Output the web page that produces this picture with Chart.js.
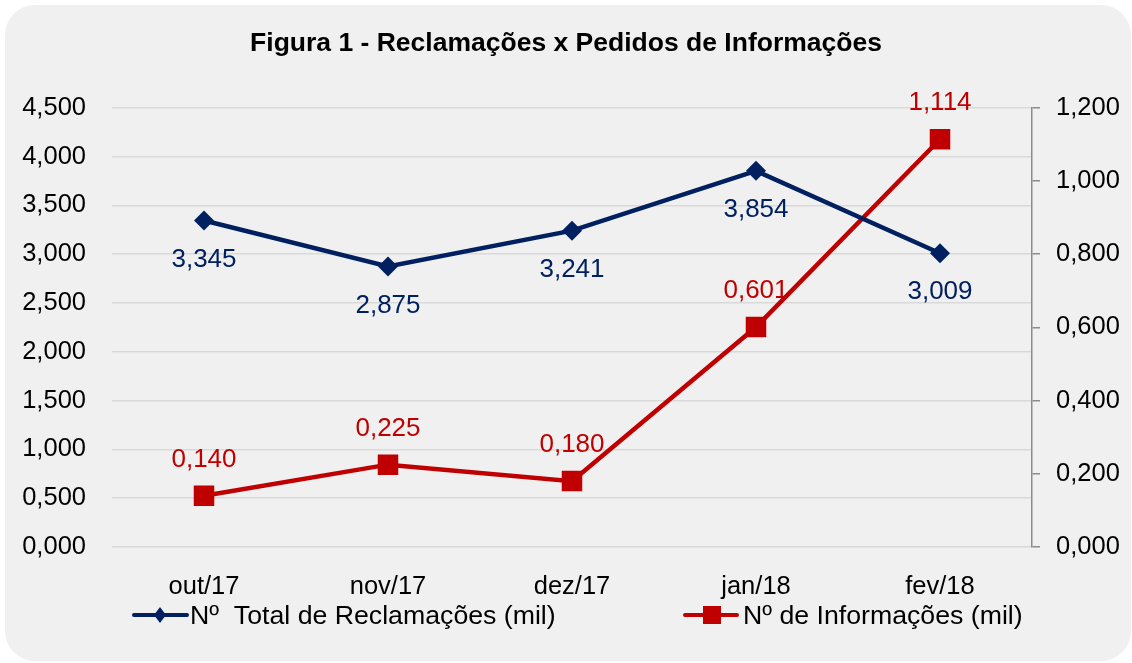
<!DOCTYPE html>
<html>
<head>
<meta charset="utf-8">
<script src="https://cdn.jsdelivr.net/npm/chart.js@4"></script>
<style>
  html, body { margin: 0; padding: 0; background: #fff; }
  #wrap { width: 1132px; height: 663px; }
</style>
</head>
<body>
<div id="wrap"><canvas id="fig1" width="1132" height="663"></canvas></div>
<script>
var meses = ["out/17", "nov/17", "dez/17", "jan/18", "fev/18"];
var reclamacoes = [3.345, 2.875, 3.241, 3.854, 3.009];
var informacoes = [0.140, 0.225, 0.180, 0.601, 1.114];
var serieNomes = ["N\u00ba  Total de Reclama\u00e7\u00f5es (mil)", "N\u00ba de Informa\u00e7\u00f5es (mil)"];
var ticksEsq = [0, 4.5, 0.5];
var ticksDir = [0, 1.2, 0.2];

var AZUL = "#002060";
var VERMELHO = "#c00000";
var FONTE = "'Liberation Sans', Arial, sans-serif";

function fmt(v) {
  return v.toFixed(3).replace(".", ",");
}

var fundo = {
  id: "fundo",
  beforeDraw: function(chart) {
    var c = chart.ctx;
    c.save();
    c.fillStyle = "#f0f0f0";
    c.beginPath();
    c.roundRect(5, 5, 1126, 656, 30);
    c.fill();
    c.restore();
  }
};

var rotulos = {
  id: "rotulos",
  afterDatasetsDraw: function(chart) {
    var c = chart.ctx;
    c.save();
    c.font = "26px " + FONTE;
    c.textAlign = "center";
    c.textBaseline = "middle";
    chart.data.datasets.forEach(function(ds, i) {
      var meta = chart.getDatasetMeta(i);
      meta.data.forEach(function(pt, j) {
        c.fillStyle = ds.borderColor;
        var dy = i === 0 ? 39 : -36;
        c.fillText(fmt(ds.data[j]), pt.x, pt.y + dy);
      });
    });
    c.restore();
  }
};

var legenda = {
  id: "legenda",
  afterDraw: function(chart) {
    var c = chart.ctx;
    var y = 615;
    c.save();
    c.lineWidth = 4;
    c.lineCap = "round";
    // serie 1
    c.strokeStyle = AZUL;
    c.beginPath(); c.moveTo(134, y); c.lineTo(187, y); c.stroke();
    c.fillStyle = AZUL;
    c.beginPath();
    c.moveTo(160, y - 8); c.lineTo(166, y); c.lineTo(160, y + 8); c.lineTo(154, y);
    c.closePath(); c.fill();
    // serie 2
    c.strokeStyle = VERMELHO;
    c.beginPath(); c.moveTo(685, y); c.lineTo(737, y); c.stroke();
    c.fillStyle = VERMELHO;
    c.fillRect(703, y - 9, 18, 18);
    c.font = "26.7px " + FONTE;
    c.fillStyle = "#000";
    c.textBaseline = "middle";
    c.textAlign = "left";
    c.fillText(serieNomes[0], 190, y + 2);
    c.fillText(serieNomes[1], 743, y + 2);
    c.restore();
  }
};

var ctx = document.getElementById("fig1");
var grafico = new Chart(ctx, {
  type: "line",
  data: {
    labels: meses,
    datasets: [
      {
        label: serieNomes[0],
        data: reclamacoes,
        yAxisID: "y",
        borderColor: AZUL,
        backgroundColor: AZUL,
        borderWidth: 4.5,
        pointStyle: "rectRot",
        pointRadius: 10,
        pointHoverRadius: 10,
        pointBorderWidth: 0,
        tension: 0
      },
      {
        label: serieNomes[1],
        data: informacoes,
        yAxisID: "y1",
        borderColor: VERMELHO,
        backgroundColor: VERMELHO,
        borderWidth: 4.5,
        pointStyle: "rect",
        pointRadius: 14.5,
        pointHoverRadius: 14.5,
        pointBorderWidth: 0,
        tension: 0
      }
    ]
  },
  options: {
    responsive: false,
    animation: false,
    layout: { padding: { left: 0, right: 0, top: 0, bottom: 0 } },
    plugins: {
      legend: { display: false },
      tooltip: { enabled: false },
      title: {
        display: true,
        text: "Figura 1 - Reclama\u00e7\u00f5es x Pedidos de Informa\u00e7\u00f5es",
        color: "#000",
        font: { family: FONTE, size: 26.5, weight: "bold" },
        padding: { top: 28, bottom: 48 }
      }
    },
    scales: {
      x: {
        offset: true,
        grid: { display: false, drawTicks: false },
        border: { display: false },
        ticks: { color: "#000", font: { family: FONTE, size: 25.5 }, padding: 25, maxRotation: 0 },
        afterFit: function(s) { s.height = 116; }
      },
      y: {
        position: "left",
        min: ticksEsq[0],
        max: ticksEsq[1],
        ticks: {
          stepSize: ticksEsq[2],
          color: "#000",
          font: { family: FONTE, size: 25.5 },
          padding: 26,
          callback: function(v) { return fmt(v); }
        },
        grid: { color: "#d9d9d9", lineWidth: 1.5, drawTicks: false },
        border: { display: false },
        afterFit: function(s) { s.width = 112; }
      },
      y1: {
        position: "right",
        min: ticksDir[0],
        max: ticksDir[1],
        ticks: {
          stepSize: ticksDir[2],
          color: "#000",
          font: { family: FONTE, size: 25.5 },
          padding: 16,
          callback: function(v) { return fmt(v); }
        },
        grid: { drawOnChartArea: false, drawTicks: true, tickLength: 8, color: "#8c8c8c", lineWidth: 1.5 },
        border: { display: true, color: "#8c8c8c", width: 1.5 },
        afterFit: function(s) { s.width = 100; }
      }
    }
  },
  plugins: [fundo, rotulos, legenda]
});
</script>
</body>
</html>
